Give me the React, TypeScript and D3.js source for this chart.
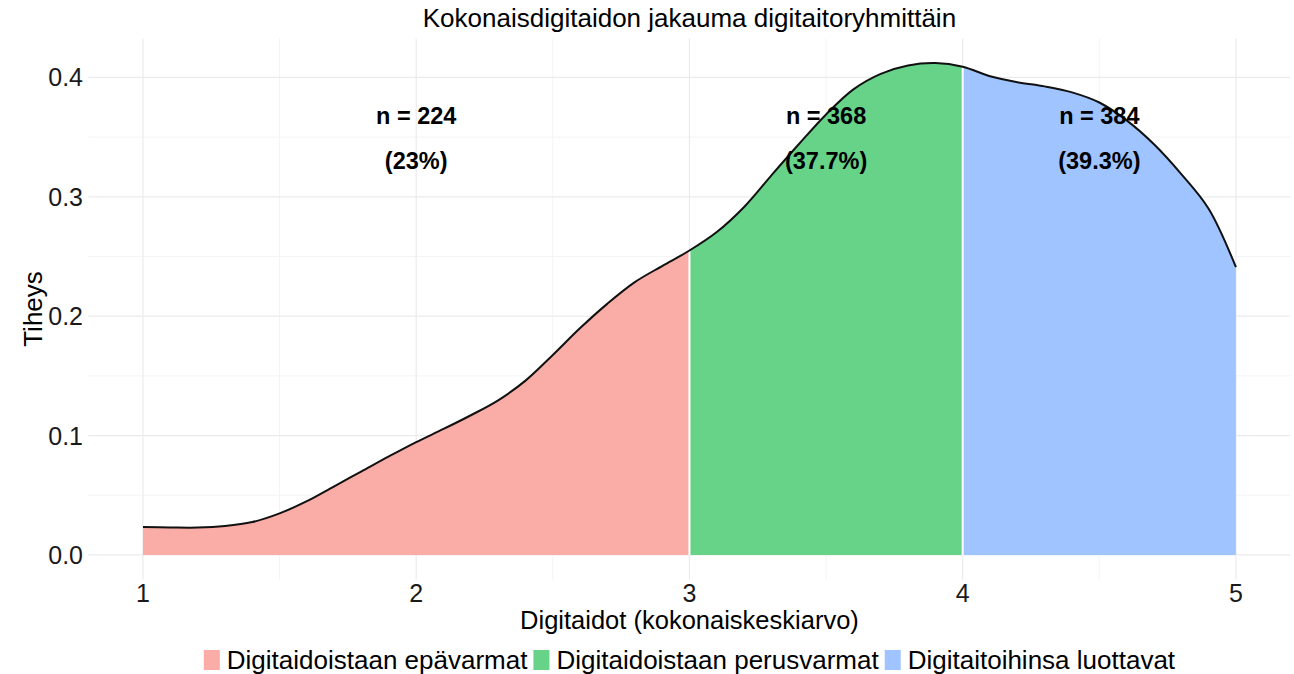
import React, { useMemo } from 'react';
import { scaleLinear, area as d3Area, line as d3Line, curveCatmullRom } from 'd3';

// density curve
const X_VALUES = [1.0, 1.1, 1.2, 1.3, 1.4, 1.5, 1.6, 1.7, 1.8, 1.9, 2.0, 2.1, 2.2, 2.3, 2.4, 2.5, 2.6, 2.7, 2.8, 2.9, 3.0,
  3.1, 3.2, 3.3, 3.4, 3.5, 3.6, 3.7, 3.8, 3.9, 4.0, 4.1, 4.2, 4.3, 4.4, 4.5, 4.6, 4.7, 4.8, 4.9, 5.0];
const DENSITY = [0.0234, 0.023, 0.0229, 0.0242, 0.0275, 0.0348, 0.045, 0.0575, 0.07, 0.0825, 0.0945, 0.1055, 0.117,
  0.1295, 0.146, 0.1675, 0.19, 0.2105, 0.2285, 0.242, 0.255, 0.2705, 0.2915, 0.318, 0.344, 0.369, 0.39, 0.403, 0.41,
  0.412, 0.409, 0.401, 0.396, 0.3925, 0.3875, 0.379, 0.364, 0.344, 0.319, 0.29, 0.241];

const GROUP_NAMES = ['Digitaidoistaan epävarmat', 'Digitaidoistaan perusvarmat', 'Digitaitoihinsa luottavat'];
const GROUP_BREAKS = [1, 3, 4, 5];
const GROUP_N = [224, 368, 384];
const GROUP_PCT = ['23%', '37.7%', '39.3%'];
const LABEL_X = [2, 3.5, 4.5];
const GROUP_COLORS = ['#F9ADA6', '#66D389', '#A0C4FF'];

const X_TICKS = [1, 2, 3, 4, 5];
const X_MINOR = [1.5, 2.5, 3.5, 4.5];
const Y_TICKS = [0, 0.1, 0.2, 0.3, 0.4];
const Y_MINOR = [0.05, 0.15, 0.25, 0.35];

const W = 1294;
const H = 674;
const FONT = '"Liberation Sans", Arial, sans-serif';

export default function App() {
  const x = useMemo(() => scaleLinear().domain([0.8, 5.2]).range([88.3, 1290.6]), []);
  const y = useMemo(() => scaleLinear().domain([-0.0206, 0.4326]).range([579.5, 38.5]), []);

  const pts = X_VALUES.map((v, i) => [v, DENSITY[i]] as [number, number]);
  const areaPath = d3Area<[number, number]>()
    .x(d => x(d[0]))
    .y0(y(0))
    .y1(d => y(d[1]))
    .curve(curveCatmullRom)(pts) || '';
  const linePath = d3Line<[number, number]>()
    .x(d => x(d[0]))
    .y(d => y(d[1]))
    .curve(curveCatmullRom)(pts) || '';

  const [px0, px1] = x.range();
  const [py0, py1] = y.range();

  // legend layout, widths measured with a canvas
  const legend = useMemo(() => {
    const ctx = document.createElement('canvas').getContext('2d')!;
    ctx.font = `26px ${FONT}`;
    const keyW = 16, gap = 7, between = 6;
    const widths = GROUP_NAMES.map(n => ctx.measureText(n).width);
    const total = widths.reduce((a, w) => a + keyW + gap + w, 0) + between * (GROUP_NAMES.length - 1);
    let cur = (px0 + px1) / 2 - total / 2;
    return widths.map((w, i) => {
      const item = { kx: cur, tx: cur + keyW + gap, name: GROUP_NAMES[i], color: GROUP_COLORS[i] };
      cur += keyW + gap + w + between;
      return item;
    });
  }, [px0, px1]);

  return (
    <div style={{ position: 'fixed', left: 0, top: 0, width: W, height: H, background: '#fff' }}>
      <svg width={W} height={H} style={{ display: 'block' }} fontFamily={FONT}>
        <defs>
          {GROUP_NAMES.map((_, i) => (
            <clipPath id={`grp-${i}`} key={i}>
              <rect x={x(GROUP_BREAKS[i])} y={0} width={x(GROUP_BREAKS[i + 1]) - x(GROUP_BREAKS[i])} height={H} />
            </clipPath>
          ))}
        </defs>

        {/* grid */}
        {Y_MINOR.map(t => (
          <line key={`ym${t}`} x1={px0} x2={px1} y1={y(t)} y2={y(t)} stroke="#f4f4f4" strokeWidth={1} />
        ))}
        {X_MINOR.map(t => (
          <line key={`xm${t}`} x1={x(t)} x2={x(t)} y1={py0} y2={py1} stroke="#f4f4f4" strokeWidth={1} />
        ))}
        {Y_TICKS.map(t => (
          <line key={`y${t}`} x1={px0} x2={px1} y1={y(t)} y2={y(t)} stroke="#ebebeb" strokeWidth={1.2} />
        ))}
        {X_TICKS.map(t => (
          <line key={`x${t}`} x1={x(t)} x2={x(t)} y1={py0} y2={py1} stroke="#ebebeb" strokeWidth={1.2} />
        ))}

        {/* filled groups */}
        {GROUP_NAMES.map((_, i) => (
          <path key={i} d={areaPath} fill={GROUP_COLORS[i]} clipPath={`url(#grp-${i})`} />
        ))}
        {GROUP_BREAKS.slice(1, -1).map(b => (
          <line key={b} x1={x(b)} x2={x(b)} y1={y(0)} y2={y(DENSITY[X_VALUES.indexOf(b)])} stroke="#fff" strokeWidth={2} />
        ))}
        <path d={linePath} fill="none" stroke="#111" strokeWidth={2} strokeLinejoin="round" />

        {/* group labels */}
        {LABEL_X.map((v, i) => (
          <g key={i} fontWeight="bold" fontSize={23.5} fill="#000" textAnchor="middle">
            <text x={x(v)} y={y(0.368)} dominantBaseline="central">{`n = ${GROUP_N[i]}`}</text>
            <text x={x(v)} y={y(0.33)} dominantBaseline="central">{`(${GROUP_PCT[i]})`}</text>
          </g>
        ))}

        {/* axes labels */}
        {Y_TICKS.map(t => (
          <text key={t} x={83} y={y(t)} textAnchor="end" dominantBaseline="central" fontSize={25} fill="#1a1a1a">
            {t.toFixed(1)}
          </text>
        ))}
        {X_TICKS.map(t => (
          <text key={t} x={x(t)} y={593} textAnchor="middle" dominantBaseline="central" fontSize={25} fill="#1a1a1a">
            {t}
          </text>
        ))}

        <text x={(px0 + px1) / 2} y={620} textAnchor="middle" dominantBaseline="central" fontSize={25.5} fill="#000">
          Digitaidot (kokonaiskeskiarvo)
        </text>
        <text
          transform={`translate(33, ${(py0 + py1) / 2}) rotate(-90)`}
          textAnchor="middle"
          dominantBaseline="central"
          fontSize={26}
          fill="#000"
        >
          Tiheys
        </text>
        <text x={(px0 + px1) / 2} y={18} textAnchor="middle" dominantBaseline="central" fontSize={26} fill="#000">
          Kokonaisdigitaidon jakauma digitaitoryhmittäin
        </text>

        {/* legend */}
        {legend.map((l, i) => (
          <g key={i}>
            <rect x={l.kx} y={650} width={16} height={20} fill={l.color} />
            <text x={l.tx} y={660} dominantBaseline="central" fontSize={26} fill="#000">{l.name}</text>
          </g>
        ))}
      </svg>
    </div>
  );
}
